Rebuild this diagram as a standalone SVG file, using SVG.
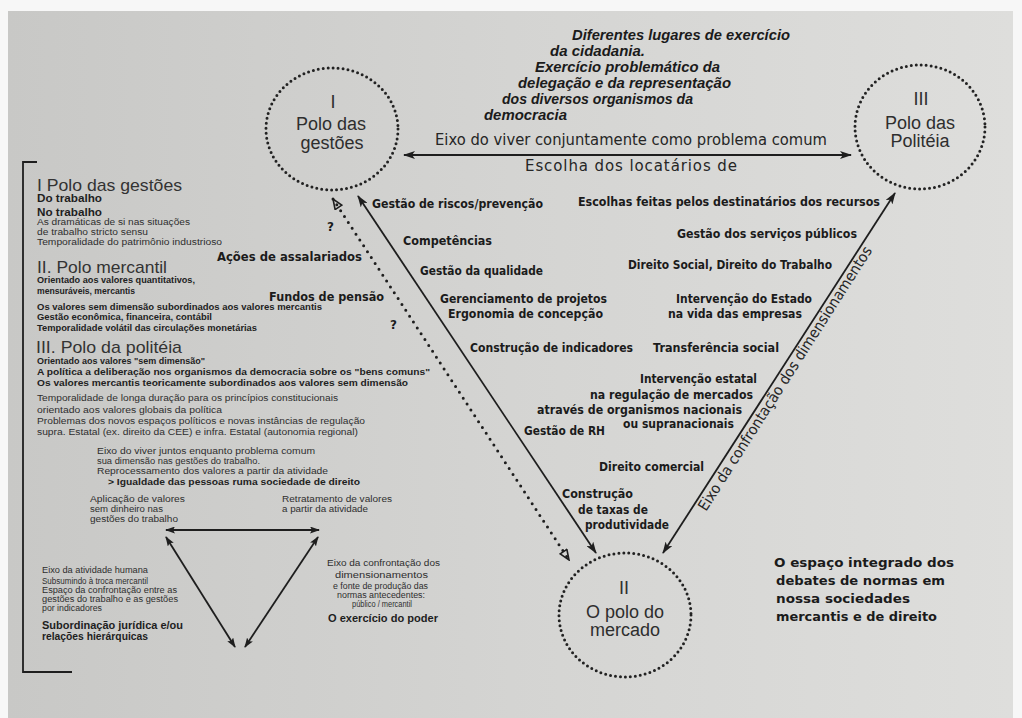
<svg xmlns="http://www.w3.org/2000/svg" width="1022" height="718" viewBox="0 0 1022 718">
<defs>
<linearGradient id="paper" x1="0" y1="0" x2="1" y2="0">
<stop offset="0" stop-color="#c8c8c6"/>
<stop offset="0.5" stop-color="#d4d4d2"/>
<stop offset="1" stop-color="#dededc"/>
</linearGradient>
<marker id="ah" viewBox="0 0 12 8" refX="11" refY="4" markerWidth="12" markerHeight="8" markerUnits="userSpaceOnUse" orient="auto-start-reverse">
<path d="M0,0 L12,4 L0,8 L3,4 z" fill="#1e1e1e"/>
</marker>
<marker id="ahs" viewBox="0 0 10 7" refX="9" refY="3.5" markerWidth="10" markerHeight="7" markerUnits="userSpaceOnUse" orient="auto-start-reverse">
<path d="M0,0 L10,3.5 L0,7 L2,3.5 z" fill="#1e1e1e"/>
</marker>
<marker id="aho" viewBox="0 0 12 10" refX="11" refY="5" markerWidth="12" markerHeight="10" markerUnits="userSpaceOnUse" orient="auto-start-reverse">
<path d="M1,1 L11,5 L1,9 z" fill="none" stroke="#1e1e1e" stroke-width="1.6"/>
</marker>
</defs>
<style>
.pole{fill:none;stroke:#222;stroke-width:3;stroke-dasharray:0 5;stroke-linecap:round}
.c{font-family:"Liberation Sans",Arial,sans-serif;font-size:18px;fill:#2e2e2e;text-anchor:middle}
.t{font-family:"DejaVu Sans","Liberation Sans",sans-serif;font-weight:bold;font-size:12px;fill:#1b1b1b}
.it{font-family:"Liberation Sans",Arial,sans-serif;font-weight:bold;font-style:italic;font-size:14px;fill:#1b1b1b}
.ax{font-family:"DejaVu Sans","Liberation Sans",sans-serif;font-size:15px;fill:#262626}
.h{font-family:"Liberation Sans",Arial,sans-serif;font-size:17px;fill:#333}
.s{font-family:"Liberation Sans",Arial,sans-serif;font-size:8.5px;fill:#2e2e2e}
.sb{font-family:"Liberation Sans",Arial,sans-serif;font-size:8.5px;font-weight:bold;fill:#222}
.b10{font-family:"Liberation Sans",Arial,sans-serif;font-size:10px;font-weight:bold;fill:#1e1e1e}
.ln{stroke:#1e1e1e;stroke-width:1.8;fill:none}
</style>
<rect x="0" y="0" width="1022" height="718" fill="#f7f7f7"/>
<rect x="8" y="11" width="1005" height="707" fill="url(#paper)"/>

<g id="connectors">
<line class="ln" x1="404" y1="155" x2="851" y2="155" marker-start="url(#ah)" marker-end="url(#ah)"/>
<line class="ln" x1="358" y1="196" x2="596" y2="553" marker-start="url(#ah)" marker-end="url(#ah)"/>
<line x1="333" y1="199" x2="569" y2="560" stroke="#1e1e1e" stroke-width="3" stroke-dasharray="0 7" stroke-linecap="round" marker-start="url(#aho)" marker-end="url(#aho)"/>
<line class="ln" x1="895" y1="193" x2="663" y2="553" marker-start="url(#ah)" marker-end="url(#ah)"/>
<line class="ln" x1="166" y1="530" x2="319" y2="530" stroke-width="2" marker-start="url(#ahs)" marker-end="url(#ahs)"/>
<line class="ln" x1="166" y1="537" x2="235" y2="647" stroke-width="1.6" marker-start="url(#ahs)" marker-end="url(#ahs)"/>
<line class="ln" x1="318" y1="537" x2="245" y2="647" stroke-width="1.6" marker-start="url(#ahs)" marker-end="url(#ahs)"/>
<path d="M37,162 L23,162 L23,672 L72,672" class="ln" stroke-width="2"/>
</g>

<g id="pole-I">
<ellipse class="pole" cx="332" cy="129" rx="66" ry="61"/>
<text class="c" x="333" y="108">I</text>
<text class="c" x="331" y="130">Polo das</text>
<text class="c" x="332" y="149">gestões</text>
</g>
<g id="pole-III">
<ellipse class="pole" cx="920" cy="127" rx="65" ry="62"/>
<text class="c" x="921" y="105">III</text>
<text class="c" x="920" y="129">Polo das</text>
<text class="c" x="920" y="147">Politéia</text>
</g>
<g id="pole-II">
<ellipse class="pole" cx="625" cy="615" rx="66" ry="62"/>
<text class="c" x="624" y="594">II</text>
<text class="c" x="625" y="618">O polo do</text>
<text class="c" x="625" y="636">mercado</text>
</g>

<g id="axis-labels">
<text class="ax" x="435" y="145" textLength="392" lengthAdjust="spacingAndGlyphs">Eixo do viver conjuntamente como problema comum</text>
<text class="ax" x="525" y="171" font-size="12" textLength="212" lengthAdjust="spacing">Escolha dos locatários de</text>
<text class="ax" transform="translate(706,512) rotate(-57.5)" x="0" y="0" font-size="14" textLength="310" lengthAdjust="spacingAndGlyphs">Eixo da confrontação dos dimensionamentos</text>
</g>

<g id="citizenship">
<text class="it" x="572" y="40" textLength="218" lengthAdjust="spacingAndGlyphs">Diferentes lugares de exercício</text>
<text class="it" x="550" y="56" textLength="95" lengthAdjust="spacingAndGlyphs">da cidadania.</text>
<text class="it" x="535" y="72" textLength="185" lengthAdjust="spacingAndGlyphs">Exercício problemático da</text>
<text class="it" x="518" y="88" textLength="213" lengthAdjust="spacingAndGlyphs">delegação e da representação</text>
<text class="it" x="502" y="104" textLength="191" lengthAdjust="spacingAndGlyphs">dos diversos organismos da</text>
<text class="it" x="484" y="120" textLength="83" lengthAdjust="spacingAndGlyphs">democracia</text>
</g>

<g id="triangle-labels">
<text class="t" x="372" y="208" textLength="171" lengthAdjust="spacingAndGlyphs">Gestão de riscos/prevenção</text>
<text class="t" x="578" y="206" textLength="302" lengthAdjust="spacingAndGlyphs">Escolhas feitas pelos destinatários dos recursos</text>
<text class="t" x="403" y="245" textLength="89" lengthAdjust="spacingAndGlyphs">Competências</text>
<text class="t" x="677" y="238" textLength="180" lengthAdjust="spacingAndGlyphs">Gestão dos serviços públicos</text>
<text class="t" x="217" y="261" font-size="13" textLength="145" lengthAdjust="spacingAndGlyphs">Ações de assalariados</text>
<text class="t" x="420" y="275" textLength="123" lengthAdjust="spacingAndGlyphs">Gestão da qualidade</text>
<text class="t" x="628" y="269" textLength="204" lengthAdjust="spacingAndGlyphs">Direito Social, Direito do Trabalho</text>
<text class="t" x="269" y="301" font-size="13" textLength="115" lengthAdjust="spacingAndGlyphs">Fundos de pensão</text>
<text class="t" x="440" y="303" textLength="167" lengthAdjust="spacingAndGlyphs">Gerenciamento de projetos</text>
<text class="t" x="448" y="318" textLength="155" lengthAdjust="spacingAndGlyphs">Ergonomia de concepção</text>
<text class="t" x="676" y="303" textLength="136" lengthAdjust="spacingAndGlyphs">Intervenção do Estado</text>
<text class="t" x="668" y="318" textLength="134" lengthAdjust="spacingAndGlyphs">na vida das empresas</text>
<text class="t" x="470" y="352" textLength="163" lengthAdjust="spacingAndGlyphs">Construção de indicadores</text>
<text class="t" x="653" y="352" textLength="126" lengthAdjust="spacingAndGlyphs">Transferência social</text>
<text class="t" x="640" y="383" textLength="117" lengthAdjust="spacingAndGlyphs">Intervenção estatal</text>
<text class="t" x="590" y="399" textLength="163" lengthAdjust="spacingAndGlyphs">na regulação de mercados</text>
<text class="t" x="537" y="414" textLength="205" lengthAdjust="spacingAndGlyphs">através de organismos nacionais</text>
<text class="t" x="623" y="428" textLength="111" lengthAdjust="spacingAndGlyphs">ou supranacionais</text>
<text class="t" x="524" y="435" textLength="81" lengthAdjust="spacingAndGlyphs">Gestão de RH</text>
<text class="t" x="599" y="471" textLength="105" lengthAdjust="spacingAndGlyphs">Direito comercial</text>
<text class="t" x="562" y="498" textLength="71" lengthAdjust="spacingAndGlyphs">Construção</text>
<text class="t" x="578" y="514" textLength="70" lengthAdjust="spacingAndGlyphs">de taxas de</text>
<text class="t" x="585" y="529" textLength="84" lengthAdjust="spacingAndGlyphs">produtividade</text>
<text class="t" x="327" y="231" font-size="15">?</text>
<text class="t" x="390" y="329" font-size="15">?</text>
</g>

<g id="integrated-space">
<text class="t" x="774" y="567" font-size="14" textLength="180" lengthAdjust="spacingAndGlyphs">O espaço integrado dos</text>
<text class="t" x="776" y="585" font-size="14" textLength="169" lengthAdjust="spacingAndGlyphs">debates de normas em</text>
<text class="t" x="776" y="603" font-size="14" textLength="134" lengthAdjust="spacingAndGlyphs">nossa sociedades</text>
<text class="t" x="776" y="621" font-size="14" textLength="161" lengthAdjust="spacingAndGlyphs">mercantis e de direito</text>
</g>

<g id="legend">
<text class="h" x="37" y="191" textLength="145" lengthAdjust="spacingAndGlyphs">I Polo das gestões</text>
<text class="b10" x="37" y="202" textLength="65" lengthAdjust="spacingAndGlyphs">Do trabalho</text>
<text class="b10" x="37" y="216" textLength="65" lengthAdjust="spacingAndGlyphs">No trabalho</text>
<text class="s" x="37" y="225" textLength="153" lengthAdjust="spacingAndGlyphs">As dramáticas de si nas situações</text>
<text class="s" x="37" y="235" textLength="111" lengthAdjust="spacingAndGlyphs">de trabalho stricto sensu</text>
<text class="s" x="37" y="245" textLength="185" lengthAdjust="spacingAndGlyphs">Temporalidade do patrimônio industrioso</text>
<text class="h" x="37" y="273" textLength="130" lengthAdjust="spacingAndGlyphs">II. Polo mercantil</text>
<text class="sb" x="37" y="283" textLength="158" lengthAdjust="spacingAndGlyphs">Orientado aos valores quantitativos,</text>
<text class="sb" x="37" y="294" textLength="98" lengthAdjust="spacingAndGlyphs">mensuráveis, mercantis</text>
<text class="sb" x="37" y="310" textLength="285" lengthAdjust="spacingAndGlyphs">Os valores sem dimensão subordinados aos valores mercantis</text>
<text class="sb" x="37" y="320" textLength="175" lengthAdjust="spacingAndGlyphs">Gestão econômica, financeira, contábil</text>
<text class="sb" x="37" y="331" textLength="220" lengthAdjust="spacingAndGlyphs">Temporalidade volátil das circulações monetárias</text>
<text class="h" x="36" y="353" textLength="146" lengthAdjust="spacingAndGlyphs">III. Polo da politéia</text>
<text class="sb" x="37" y="364" textLength="168" lengthAdjust="spacingAndGlyphs">Orientado aos valores "sem dimensão"</text>
<text class="sb" x="37" y="375" textLength="393" lengthAdjust="spacingAndGlyphs">A política a deliberação nos organismos da democracia sobre os "bens comuns"</text>
<text class="sb" x="37" y="386" textLength="371" lengthAdjust="spacingAndGlyphs">Os valores mercantis teoricamente subordinados aos valores sem dimensão</text>
<text class="s" x="37" y="401" textLength="301" lengthAdjust="spacingAndGlyphs">Temporalidade de longa duração para os princípios constitucionais</text>
<text class="s" x="37" y="413" textLength="185" lengthAdjust="spacingAndGlyphs">orientado aos valores globais da política</text>
<text class="s" x="37" y="424" textLength="328" lengthAdjust="spacingAndGlyphs">Problemas dos novos espaços políticos e novas instâncias de regulação</text>
<text class="s" x="37" y="435" textLength="321" lengthAdjust="spacingAndGlyphs">supra. Estatal (ex. direito da CEE) e infra. Estatal (autonomia regional)</text>
<text class="s" x="97" y="454" textLength="218" lengthAdjust="spacingAndGlyphs">Eixo do viver juntos enquanto problema comum</text>
<text class="s" x="97" y="464" textLength="163" lengthAdjust="spacingAndGlyphs">sua dimensão nas gestões do trabalho.</text>
<text class="s" x="97" y="474" textLength="231" lengthAdjust="spacingAndGlyphs">Reprocessamento dos valores a partir da atividade</text>
<text class="sb" x="108" y="485" textLength="252" lengthAdjust="spacingAndGlyphs">&gt; Igualdade das pessoas ruma sociedade de direito</text>
<text class="s" x="90" y="502" textLength="95" lengthAdjust="spacingAndGlyphs">Aplicação de valores</text>
<text class="s" x="90" y="512" textLength="73" lengthAdjust="spacingAndGlyphs">sem dinheiro nas</text>
<text class="s" x="90" y="522" textLength="88" lengthAdjust="spacingAndGlyphs">gestões do trabalho</text>
<text class="s" x="282" y="502" textLength="110" lengthAdjust="spacingAndGlyphs">Retratamento de valores</text>
<text class="s" x="282" y="512" textLength="86" lengthAdjust="spacingAndGlyphs">a partir da atividade</text>
<text class="s" x="42" y="573" textLength="106" lengthAdjust="spacingAndGlyphs">Eixo da atividade humana</text>
<text class="s" x="42" y="584" font-size="7.5" textLength="106" lengthAdjust="spacingAndGlyphs">Subsumindo à troca mercantil</text>
<text class="s" x="42" y="593" font-size="7.5" textLength="135" lengthAdjust="spacingAndGlyphs">Espaço da confrontação entre as</text>
<text class="s" x="42" y="602" font-size="7.5" textLength="136" lengthAdjust="spacingAndGlyphs">gestões do trabalho e as gestões</text>
<text class="s" x="42" y="611" font-size="7.5" textLength="60" lengthAdjust="spacingAndGlyphs">por indicadores</text>
<text class="b10" x="42" y="629" textLength="141" lengthAdjust="spacingAndGlyphs">Subordinação jurídica e/ou</text>
<text class="b10" x="42" y="640" textLength="106" lengthAdjust="spacingAndGlyphs">relações hierárquicas</text>
<text class="s" x="327" y="566" textLength="113" lengthAdjust="spacingAndGlyphs">Eixo da confrontação dos</text>
<text class="s" x="335" y="578" font-size="7.5" textLength="93" lengthAdjust="spacingAndGlyphs">dimensionamentos</text>
<text class="s" x="333" y="589" font-size="7.5" textLength="95" lengthAdjust="spacingAndGlyphs">e fonte de produção das</text>
<text class="s" x="337" y="598" font-size="7.5" textLength="88" lengthAdjust="spacingAndGlyphs">normas antecedentes:</text>
<text class="s" x="352" y="607" font-size="7.5" textLength="60" lengthAdjust="spacingAndGlyphs">público / mercantil</text>
<text class="b10" x="328" y="622" textLength="110" lengthAdjust="spacingAndGlyphs">O exercício do poder</text>
</g>
</svg>
